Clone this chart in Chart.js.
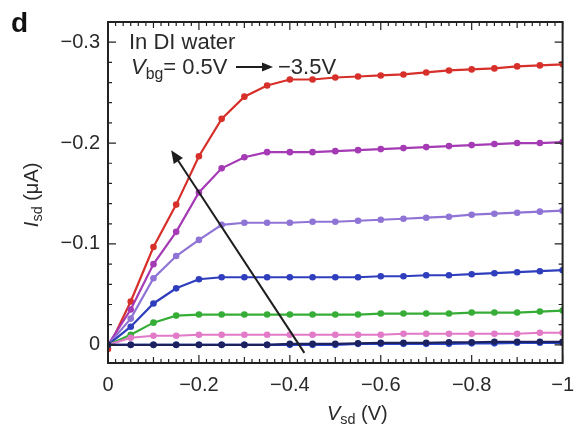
<!DOCTYPE html>
<html>
<head>
<meta charset="utf-8">
<script src="https://cdn.jsdelivr.net/npm/chart.js"></script>
<style>
  html, body { margin: 0; padding: 0; background: #fff; }
  #wrap { position: relative; width: 584px; height: 439px; font-family: "Liberation Sans", Arial, sans-serif; color: #2a2a2a; }
  #wrap canvas { position: absolute; left: 0; top: 0; }
  .lbl { position: absolute; white-space: nowrap; line-height: 1; }
  .lbl sub { font-size: 0.72em; vertical-align: -0.3em; }
  .it { font-style: italic; }
</style>
</head>
<body>
<div id="wrap">
  <canvas id="chart" width="584" height="439"></canvas>
  <div class="lbl" style="left:11px;top:9px;font-size:28px;font-weight:bold;color:#111;">d</div>
  <div class="lbl" style="left:129px;top:31px;font-size:22px;">In DI water</div>
  <div class="lbl" style="left:131px;top:56px;font-size:22px;"><span class="it">V</span><sub>bg</sub>= 0.5V</div>
  <div class="lbl" style="left:278px;top:56px;font-size:22px;">−3.5V</div>
  <div class="lbl" style="left:327px;top:403px;font-size:20px;"><span class="it">V</span><sub>sd</sub> (V)</div>
  <div class="lbl" style="left:-12px;top:183px;font-size:20px;transform:rotate(-90deg);transform-origin:50% 50%;width:90px;text-align:center;"><span class="it">I</span><sub>sd</sub> (μA)</div>
</div>
<script>
// drain voltage (V) and drain current (uA) for Vbg = 0.5V ... -3.5V
const vsd = [0, -0.05, -0.1, -0.15, -0.2, -0.25, -0.3, -0.35, -0.4, -0.45, -0.5,
             -0.55, -0.6, -0.65, -0.7, -0.75, -0.8, -0.85, -0.9, -0.95, -1];

const isdRed = [0.004, -0.043, -0.097, -0.139, -0.187, -0.224, -0.246, -0.257, -0.263, -0.263, -0.265,
                -0.266, -0.267, -0.268, -0.270, -0.272, -0.273, -0.274, -0.276, -0.277, -0.278];
const isdMagenta = [0, -0.035, -0.080, -0.112, -0.151, -0.175, -0.186, -0.191, -0.191, -0.191, -0.192,
                    -0.193, -0.194, -0.195, -0.196, -0.197, -0.198, -0.199, -0.200, -0.200, -0.201];
const isdLavender = [0, -0.026, -0.066, -0.088, -0.104, -0.119, -0.121, -0.121, -0.121, -0.122, -0.122,
                     -0.123, -0.124, -0.125, -0.126, -0.127, -0.129, -0.130, -0.131, -0.132, -0.133];
const isdBlue = [0, -0.018, -0.041, -0.056, -0.065, -0.067, -0.067, -0.067, -0.067, -0.067, -0.067,
                 -0.067, -0.068, -0.068, -0.069, -0.069, -0.070, -0.071, -0.072, -0.073, -0.074];
const isdGreen = [0, -0.010, -0.022, -0.029, -0.030, -0.030, -0.030, -0.030, -0.030, -0.030, -0.030,
                  -0.030, -0.031, -0.031, -0.031, -0.031, -0.032, -0.032, -0.032, -0.033, -0.034];
const isdPink = [0, -0.007, -0.009, -0.009, -0.010, -0.010, -0.010, -0.010, -0.010, -0.010, -0.010,
                 -0.010, -0.010, -0.011, -0.011, -0.011, -0.011, -0.011, -0.011, -0.012, -0.012];
const isdBlue2 = [0, 0, 0, 0, 0, 0, 0, 0, 0, 0, 0,
                  -0.001, -0.001, -0.001, -0.001, -0.001, -0.0015, -0.0015, -0.002, -0.002, -0.002];
const isdDark = [0, 0, 0, 0, 0, 0, 0, 0, -0.001, -0.001, -0.001,
                 -0.0015, -0.002, -0.002, -0.002, -0.0025, -0.0025, -0.003, -0.003, -0.003, -0.003];

const xTickLabels = ['0', '−0.2', '−0.4', '−0.6', '−0.8', '−1'];
const yTickLabels = ['0', '−0.1', '−0.2', '−0.3'];

// the big arrow across the curves, in data coordinates [vsd, isd]
const arrowFrom = [-0.432, 0.008];
const arrowTo = [-0.139, -0.193];

const series = [
  { data: isdDark, color: '#1c2160' },
  { data: isdBlue2, color: '#2b48cf' },
  { data: isdPink, color: '#e27ac8' },
  { data: isdGreen, color: '#36ad36' },
  { data: isdBlue, color: '#2f3ebd' },
  { data: isdLavender, color: '#8f74d6' },
  { data: isdMagenta, color: '#a53ab5' },
  { data: isdRed, color: '#d7302a' }
];

const frame = {
  id: 'frame',
  afterDatasetsDraw(chart) {
    const { ctx, chartArea: a, scales: { x, y } } = chart;
    ctx.save();
    ctx.strokeStyle = '#222';
    ctx.lineWidth = 1.2;
    // inward ticks, x: every 1/60, longer at 0.1 and 0.2
    for (let i = 0; i <= 60; i++) {
      const px = x.getPixelForValue(-i / 60);
      const len = i % 12 === 0 ? 8 : (i % 6 === 0 ? 6 : 4);
      ctx.beginPath();
      ctx.moveTo(px, a.bottom); ctx.lineTo(px, a.bottom - len);
      ctx.moveTo(px, a.top); ctx.lineTo(px, a.top + len);
      ctx.stroke();
    }
    // y: every 0.02, longer at 0.1
    for (let i = -16; i <= 0; i++) {
      const py = y.getPixelForValue(i * 0.02);
      const len = i % 5 === 0 ? 8 : 4;
      ctx.beginPath();
      ctx.moveTo(a.left, py); ctx.lineTo(a.left + len, py);
      ctx.moveTo(a.right, py); ctx.lineTo(a.right - len, py);
      ctx.stroke();
    }
    ctx.lineWidth = 2;
    ctx.strokeRect(a.left, a.top, a.right - a.left, a.bottom - a.top);

    // arrow
    const x0 = x.getPixelForValue(arrowFrom[0]), y0 = y.getPixelForValue(arrowFrom[1]);
    const x1 = x.getPixelForValue(arrowTo[0]), y1 = y.getPixelForValue(arrowTo[1]);
    const ang = Math.atan2(y1 - y0, x1 - x0);
    const hl = 13, hw = 5.5;
    ctx.strokeStyle = '#1e1e1e';
    ctx.fillStyle = '#1e1e1e';
    ctx.lineWidth = 2;
    ctx.beginPath();
    ctx.moveTo(x0, y0);
    ctx.lineTo(x1 - Math.cos(ang) * hl * 0.8, y1 - Math.sin(ang) * hl * 0.8);
    ctx.stroke();
    ctx.beginPath();
    ctx.moveTo(x1, y1);
    ctx.lineTo(x1 - Math.cos(ang) * hl - Math.sin(ang) * hw, y1 - Math.sin(ang) * hl + Math.cos(ang) * hw);
    ctx.lineTo(x1 - Math.cos(ang) * hl + Math.sin(ang) * hw, y1 - Math.sin(ang) * hl - Math.cos(ang) * hw);
    ctx.closePath();
    ctx.fill();

    // small arrow in the legend text
    ctx.lineWidth = 2;
    ctx.beginPath();
    ctx.moveTo(236, 67); ctx.lineTo(264, 67);
    ctx.stroke();
    ctx.beginPath();
    ctx.moveTo(273, 67); ctx.lineTo(262, 62.5); ctx.lineTo(262, 71.5);
    ctx.closePath();
    ctx.fill();
    ctx.restore();
  }
};

new Chart(document.getElementById('chart'), {
  type: 'line',
  data: {
    datasets: series.map(s => ({
      data: vsd.map((v, i) => ({ x: v, y: s.data[i] })),
      borderColor: s.color,
      backgroundColor: s.color,
      borderWidth: 2.2,
      pointRadius: 3.3,
      pointBorderWidth: 0,
      tension: 0
    }))
  },
  options: {
    responsive: false,
    animation: false,
    layout: { padding: { top: 22, right: 18, left: 0, bottom: 0 } },
    plugins: { legend: { display: false }, tooltip: { enabled: false } },
    scales: {
      x: {
        type: 'linear',
        reverse: true,
        min: -1,
        max: 0,
        afterBuildTicks: sc => { sc.ticks = xTickLabels.map((t, i) => ({ value: -i * 0.2 })); },
        afterFit: sc => { sc.height = 76; },
        ticks: {
          autoSkip: false,
          maxRotation: 0,
          padding: 10,
          color: '#2a2a2a',
          font: { family: '"Liberation Sans", Arial, sans-serif', size: 20 },
          callback: (v, i) => xTickLabels[i]
        },
        grid: { display: false, drawTicks: false },
        border: { display: false }
      },
      y: {
        type: 'linear',
        reverse: true,
        min: -0.32,
        max: 0.018,
        afterBuildTicks: sc => { sc.ticks = yTickLabels.map((t, i) => ({ value: -i * 0.1 })); },
        afterFit: sc => { sc.width = 108; },
        ticks: {
          autoSkip: false,
          padding: 8,
          color: '#2a2a2a',
          font: { family: '"Liberation Sans", Arial, sans-serif', size: 20 },
          callback: (v, i) => yTickLabels[i]
        },
        grid: { display: false, drawTicks: false },
        border: { display: false }
      }
    }
  },
  plugins: [frame]
});
</script>
</body>
</html>
